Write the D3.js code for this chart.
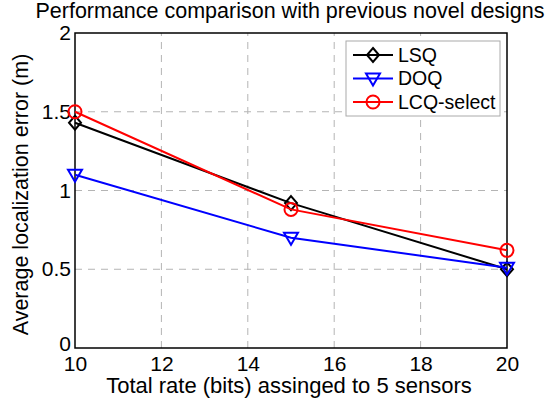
<!DOCTYPE html>
<html>
<head>
<meta charset="utf-8">
<script src="https://cdn.jsdelivr.net/npm/d3@7"></script>
<style>
  body { margin: 0; background: #fff; }
  text { font-family: "Liberation Sans", Arial, sans-serif; fill: #000; }
</style>
</head>
<body>
<div id="chart"></div>
<script>
// data
var rates = [10, 15, 20];
var lsq = [1.43, 0.92, 0.50];
var doq = [1.10, 0.70, 0.51];
var lcqSelect = [1.50, 0.88, 0.62];
var xTicks = [10, 12, 14, 16, 18, 20];
var yTicks = [0, 0.5, 1, 1.5, 2];

var series = [
  { name: 'LSQ', values: lsq, color: '#000000', marker: 'diamond' },
  { name: 'DOQ', values: doq, color: '#0000ff', marker: 'triangle' },
  { name: 'LCQ-select', values: lcqSelect, color: '#ff0000', marker: 'circle' }
];

var width = 560, height = 403;
var margin = { left: 75, right: 53, top: 33, bottom: 55 };

var svg = d3.select('#chart').append('svg')
  .attr('width', width).attr('height', height);

var x = d3.scaleLinear().domain([10, 20]).range([margin.left, width - margin.right]);
var y = d3.scaleLinear().domain([0, 2]).range([height - margin.bottom, margin.top]);

// grid
var grid = svg.append('g');
grid.selectAll('.gx').data(xTicks.slice(1, -1)).enter().append('line')
  .attr('x1', d => x(d)).attr('x2', d => x(d))
  .attr('y1', y(0)).attr('y2', y(2))
  .attr('stroke', '#b4b4b4').attr('stroke-width', 1).attr('stroke-dasharray', '7,6');
grid.selectAll('.gy').data(yTicks.slice(1, -1)).enter().append('line')
  .attr('x1', x(10)).attr('x2', x(20))
  .attr('y1', d => y(d)).attr('y2', d => y(d))
  .attr('stroke', '#b4b4b4').attr('stroke-width', 1).attr('stroke-dasharray', '7,6');

// axes box
svg.append('rect')
  .attr('x', x(10)).attr('y', y(2))
  .attr('width', x(20) - x(10)).attr('height', y(0) - y(2))
  .attr('fill', 'none').attr('stroke', '#000').attr('stroke-width', 1.5);

var xAxis = svg.append('g').attr('transform', 'translate(0,' + y(0) + ')')
  .call(d3.axisBottom(x).tickValues(xTicks).tickSize(0).tickPadding(8));
var yAxis = svg.append('g').attr('transform', 'translate(' + x(10) + ',0)')
  .call(d3.axisLeft(y).tickValues(yTicks).tickSize(0).tickPadding(4)
    .tickFormat(d => String(d)));
[xAxis, yAxis].forEach(function (a) {
  a.select('.domain').remove();
  a.selectAll('text').attr('font-size', 21).attr('font-family', '"Liberation Sans", Arial, sans-serif').attr('fill', '#000');
});
xAxis.selectAll('text').attr('dy', '0.71em');
// the bottom "0" sits a little above the corner, as in the original
yAxis.selectAll('text').filter(d => d === 0).attr('dy', '0.1em');

// labels
svg.append('text').attr('x', 290).attr('y', 18).attr('text-anchor', 'middle')
  .attr('font-size', 21.5).text('Performance comparison with previous novel designs');
svg.append('text').attr('x', 289).attr('y', 393).attr('text-anchor', 'middle')
  .attr('font-size', 22).text('Total rate (bits) assinged to 5 sensors');
svg.append('text').attr('transform', 'translate(28,' + ((y(0) + y(2)) / 2 + 4) + ') rotate(-90)')
  .attr('text-anchor', 'middle').attr('font-size', 21.5).text('Average localization error (m)');

function drawMarker(g, type, color) {
  if (type === 'diamond') {
    g.append('path').attr('d', 'M0,-7L6,0L0,7L-6,0Z');
  } else if (type === 'triangle') {
    g.append('path').attr('d', 'M-7,-5L7,-5L0,7Z');
  } else {
    g.append('circle').attr('r', 6.5);
  }
  g.selectAll('path,circle').attr('fill', 'none').attr('stroke', color).attr('stroke-width', 2);
}

var line = d3.line().x((d, i) => x(rates[i])).y(d => y(d));
series.forEach(function (s) {
  svg.append('path').datum(s.values).attr('d', line)
    .attr('fill', 'none').attr('stroke', s.color).attr('stroke-width', 2);
  s.values.forEach(function (v, i) {
    var g = svg.append('g').attr('transform', 'translate(' + x(rates[i]) + ',' + y(v) + ')');
    drawMarker(g, s.marker, s.color);
  });
});

// legend
var lg = svg.append('g').attr('transform', 'translate(346,41)');
lg.append('rect').attr('width', 154).attr('height', 75)
  .attr('fill', '#fff').attr('stroke', '#aaaaaa').attr('stroke-width', 1);
series.forEach(function (s, i) {
  var row = lg.append('g').attr('transform', 'translate(0,' + (14 + i * 23.5) + ')');
  row.append('line').attr('x1', 7).attr('x2', 47).attr('stroke', s.color).attr('stroke-width', 2);
  var m = row.append('g').attr('transform', 'translate(27,0)');
  drawMarker(m, s.marker, s.color);
  row.append('text').attr('x', 52).attr('dy', '0.35em').attr('font-size', 19.5).text(s.name);
});
</script>
</body>
</html>
